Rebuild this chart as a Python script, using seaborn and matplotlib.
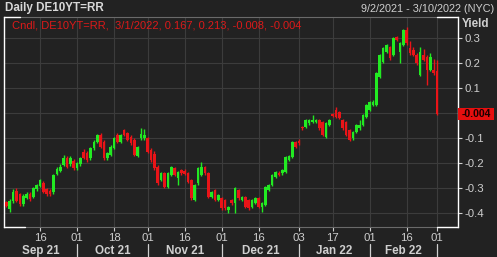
import numpy as np
import pandas as pd
import matplotlib
matplotlib.use("Agg")
import matplotlib.pyplot as plt
import matplotlib.transforms as mtransforms
from matplotlib.lines import Line2D
from matplotlib.patches import Rectangle
import seaborn as sns

# ---------------- data ----------------
start_date = "2021-09-02"
end_date = "2022-03-01"
opens = [-0.357, -0.385, -0.350, -0.312, -0.325, -0.365, -0.338, -0.322, -0.335, -0.305,
         -0.290, -0.280, -0.305, -0.312, -0.317, -0.242, -0.230, -0.207, -0.181, -0.205,
         -0.190, -0.221, -0.205, -0.155, -0.160, -0.181, -0.141, -0.115, -0.088, -0.115,
         -0.181, -0.168, -0.141, -0.088, -0.115, -0.068, -0.081, -0.095, -0.108, -0.170,
         -0.101, -0.101, -0.101, -0.148, -0.165, -0.215, -0.268, -0.241, -0.295, -0.248,
         -0.221, -0.261, -0.228, -0.230, -0.241, -0.268, -0.348, -0.281, -0.248, -0.215,
         -0.241, -0.335, -0.308, -0.348, -0.341, -0.348, -0.388, -0.348, -0.361, -0.308,
         -0.348, -0.335, -0.348, -0.375, -0.361, -0.341, -0.375, -0.368, -0.308, -0.288,
         -0.255, -0.238, -0.241, -0.235, -0.188, -0.175, -0.115, -0.110, -0.055, -0.055,
         -0.041, -0.035, -0.035, -0.028, -0.035, -0.095, -0.048, -0.005, 0.012, 0.005,
         -0.028, -0.035, -0.068, -0.101, -0.075, -0.061, -0.048, -0.015, 0.012, 0.032,
         0.032, 0.145, 0.205, 0.245, 0.265, 0.232, 0.305, 0.245, 0.272, 0.332,
         0.259, 0.252, 0.232, 0.152, 0.232, 0.225, 0.172, 0.172, 0.167]
highs = [-0.350, -0.345, -0.305, -0.300, -0.318, -0.322, -0.315, -0.315, -0.295, -0.282,
         -0.262, -0.272, -0.300, -0.305, -0.242, -0.215, -0.205, -0.168, -0.172, -0.170,
         -0.183, -0.195, -0.175, -0.145, -0.152, -0.136, -0.108, -0.082, -0.080, -0.108,
         -0.155, -0.128, -0.095, -0.080, -0.082, -0.062, -0.075, -0.088, -0.100, -0.130,
         -0.061, -0.062, -0.095, -0.140, -0.150, -0.208, -0.236, -0.236, -0.236, -0.210,
         -0.215, -0.230, -0.222, -0.224, -0.235, -0.262, -0.282, -0.215, -0.195, -0.210,
         -0.236, -0.310, -0.302, -0.322, -0.335, -0.342, -0.370, -0.342, -0.295, -0.302,
         -0.330, -0.330, -0.342, -0.343, -0.336, -0.336, -0.356, -0.290, -0.283, -0.243,
         -0.230, -0.233, -0.223, -0.170, -0.167, -0.110, -0.110, -0.105, -0.050, -0.023,
         -0.023, -0.008, -0.022, -0.022, -0.030, -0.036, -0.022, 0.000, 0.025, 0.010,
         -0.022, -0.030, -0.062, -0.070, -0.043, -0.028, -0.003, 0.038, 0.050, 0.052,
         0.165, 0.238, 0.265, 0.278, 0.270, 0.305, 0.310, 0.285, 0.338, 0.345,
         0.290, 0.265, 0.240, 0.265, 0.255, 0.232, 0.240, 0.215, 0.213]
lows = [-0.375, -0.395, -0.360, -0.355, -0.370, -0.372, -0.345, -0.352, -0.340, -0.312,
        -0.295, -0.320, -0.330, -0.332, -0.322, -0.248, -0.235, -0.212, -0.220, -0.210,
        -0.228, -0.226, -0.210, -0.185, -0.195, -0.186, -0.146, -0.120, -0.140, -0.188,
        -0.186, -0.172, -0.145, -0.120, -0.120, -0.093, -0.113, -0.126, -0.173, -0.175,
        -0.106, -0.108, -0.160, -0.195, -0.226, -0.286, -0.273, -0.300, -0.300, -0.252,
        -0.253, -0.288, -0.246, -0.248, -0.280, -0.346, -0.352, -0.286, -0.252, -0.246,
        -0.340, -0.340, -0.353, -0.352, -0.386, -0.386, -0.398, -0.366, -0.401, -0.346,
        -0.352, -0.380, -0.386, -0.380, -0.365, -0.380, -0.395, -0.372, -0.312, -0.292,
        -0.260, -0.253, -0.246, -0.240, -0.193, -0.180, -0.140, -0.126, -0.066, -0.060,
        -0.046, -0.040, -0.040, -0.066, -0.093, -0.100, -0.052, -0.016, -0.020, -0.025,
        -0.066, -0.093, -0.113, -0.106, -0.080, -0.066, -0.053, -0.020, 0.007, 0.027,
        0.027, 0.140, 0.200, 0.240, 0.214, 0.227, 0.287, 0.199, 0.267, 0.274,
        0.234, 0.227, 0.194, 0.147, 0.207, 0.112, 0.167, 0.154, -0.008]
closes = [-0.371, -0.350, -0.315, -0.350, -0.365, -0.330, -0.322, -0.345, -0.300, -0.288,
          -0.268, -0.315, -0.325, -0.322, -0.248, -0.222, -0.216, -0.181, -0.215, -0.181,
          -0.221, -0.200, -0.181, -0.181, -0.188, -0.141, -0.115, -0.088, -0.135, -0.181,
          -0.161, -0.135, -0.101, -0.115, -0.088, -0.088, -0.108, -0.121, -0.168, -0.135,
          -0.085, -0.088, -0.155, -0.188, -0.221, -0.281, -0.241, -0.295, -0.241, -0.215,
          -0.248, -0.235, -0.241, -0.242, -0.275, -0.341, -0.288, -0.221, -0.215, -0.241,
          -0.335, -0.315, -0.348, -0.328, -0.381, -0.381, -0.375, -0.361, -0.301, -0.341,
          -0.335, -0.375, -0.381, -0.348, -0.341, -0.375, -0.361, -0.295, -0.288, -0.248,
          -0.235, -0.248, -0.228, -0.175, -0.172, -0.115, -0.135, -0.121, -0.061, -0.028,
          -0.028, -0.028, -0.028, -0.061, -0.088, -0.041, -0.028, -0.012, -0.015, -0.020,
          -0.061, -0.088, -0.108, -0.075, -0.048, -0.048, -0.008, 0.032, 0.045, 0.045,
          0.159, 0.232, 0.259, 0.272, 0.219, 0.299, 0.292, 0.279, 0.332, 0.279,
          0.239, 0.232, 0.199, 0.245, 0.212, 0.172, 0.225, 0.159, -0.004]

tick_dates = ["2021-09-16", "2021-10-01", "2021-10-18", "2021-11-01", "2021-11-16", "2021-12-01",
              "2021-12-16", "2022-01-03", "2022-01-17", "2022-02-01", "2022-02-16", "2022-03-01"]
tick_labels = ["16", "01", "18", "01", "16", "01", "16", "03", "17", "01", "16", "01"]
month_labels = ["Sep 21", "Oct 21", "Nov 21", "Dec 21", "Jan 22", "Feb 22"]
month_starts = ["2021-10-01", "2021-11-01", "2021-12-01", "2022-01-03", "2022-02-01", "2022-03-01"]
y_ticks = [-0.4, -0.3, -0.2, -0.1, 0.0, 0.1, 0.2, 0.3]
y_tick_labels = ["-0.4", "-0.3", "-0.2", "-0.1", "", "0.1", "0.2", "0.3"]
last_value = -0.004
title = "Daily DE10YT=RR"
range_text = "9/2/2021 - 3/10/2022 (NYC)"
legend_text = "Cndl, DE10YT=RR,  3/1/2022, 0.167, 0.213, -0.008, -0.004"
y_label = "Yield"

# ---------------- style ----------------
BG = "#222222"
GRID = "#3c3c3c"
TXT = "#cfcfcf"
UP = "#22ea22"
DOWN = "#ea1418"

sns.set_theme(style="dark", rc={"axes.facecolor": BG, "figure.facecolor": BG,
                                "savefig.facecolor": BG, "grid.color": GRID})
plt.rcParams["font.family"] = ["Liberation Sans", "DejaVu Sans"]

dates = pd.bdate_range(start_date, end_date)
df = pd.DataFrame({"date": dates, "open": opens, "high": highs, "low": lows, "close": closes})
df["pos"] = np.arange(len(df))
df["up"] = df["close"] >= df["open"]
df["color"] = np.where(df["up"], UP, DOWN)
df["body_low"] = df[["open", "close"]].min(axis=1)
df["body_h"] = np.maximum((df["close"] - df["open"]).abs(), 0.004)

def pos_of(d):
    return dates.get_loc(pd.Timestamp(d))

fig = plt.figure(figsize=(4.97, 2.57), dpi=100)
ax = fig.add_axes([4 / 497, 30 / 257, 454 / 497, 210 / 257])
ax.set_facecolor(BG)

# candles
ax.vlines(df["pos"], df["low"], df["high"], colors=df["color"], linewidth=1.0, zorder=3)
ax.bar(df["pos"], df["body_h"], bottom=df["body_low"], width=0.78, color=df["color"],
       linewidth=0, zorder=4)

ax.set_xlim(-0.71, 134.25)
ax.set_ylim(-0.456, 0.384)

# grid / ticks
ax.set_xticks([pos_of(d) for d in tick_dates])
ax.set_xticklabels(tick_labels)
ax.set_yticks(y_ticks)
ax.set_yticklabels(y_tick_labels)
ax.yaxis.tick_right()
ax.grid(True, color=GRID, linewidth=0.8)
ax.tick_params(axis="both", colors=TXT, labelcolor=TXT, labelsize=8.2, direction="out",
               length=3, width=0.8)
ax.tick_params(axis="x", pad=1.5, bottom=True)
ax.tick_params(axis="y", pad=2, right=True, left=False)

for s in ["left", "right"]:
    ax.spines[s].set_color("white")
    ax.spines[s].set_linewidth(1.0)
for s in ["top", "bottom"]:
    ax.spines[s].set_color("#6a6a6a")
    ax.spines[s].set_linewidth(0.8)

# white frame corners
for (x0, x1, y) in [(0, 16 / 454, 1), (0, 21 / 454, 0), (433 / 454, 1, 1), (433 / 454, 1, 0)]:
    ax.add_line(Line2D([x0, x1], [y, y], transform=ax.transAxes, color="white",
                       linewidth=1.0, clip_on=False, zorder=6))

# current-value box
btrans = mtransforms.blended_transform_factory(ax.transAxes, ax.transData)
ax.add_patch(Rectangle((1.0, last_value - 0.024), 36 / 454, 0.048, transform=btrans,
                       facecolor="#e60f0f", edgecolor="none", clip_on=False, zorder=7))
ax.text(1.0 + 18 / 454, last_value, f"{last_value:.3f}", transform=btrans, ha="center",
        va="center", fontsize=7.5, fontweight="bold", color="#1a0000", zorder=8)

# texts
fig.text(5 / 497, 1 - 8.5 / 257, title, ha="left", va="center", fontsize=8.4,
         fontweight="bold", color="#d8d8d8")
fig.text(494 / 497, 1 - 8.5 / 257, range_text, ha="right", va="center", fontsize=7.8,
         color=TXT)
ax.text(8 / 454, 1 - 9 / 210, legend_text, transform=ax.transAxes, ha="left", va="center",
        fontsize=8, color="#dc1a1a", zorder=8)
fig.text(476 / 497, 1 - 24 / 257, y_label, ha="center", va="center", fontsize=8.4,
         fontweight="bold", color=TXT)

# month labels and separators
mtrans = mtransforms.blended_transform_factory(ax.transData, fig.transFigure)
bounds = [ax.get_xlim()[0]] + [pos_of(d) for d in month_starts]
for i, lab in enumerate(month_labels):
    c = (bounds[i] + bounds[i + 1]) / 2
    fig.text(c, 1 - 251 / 257, lab, transform=mtrans, ha="center", va="center",
             fontsize=8.4, fontweight="bold", color=TXT)
for d in month_starts:
    p = pos_of(d)
    fig.add_artist(Line2D([p, p], [0, 1 - 244 / 257], transform=mtrans, color=TXT,
                          linewidth=0.9))

fig.savefig("out.png", dpi=100, facecolor=BG)
